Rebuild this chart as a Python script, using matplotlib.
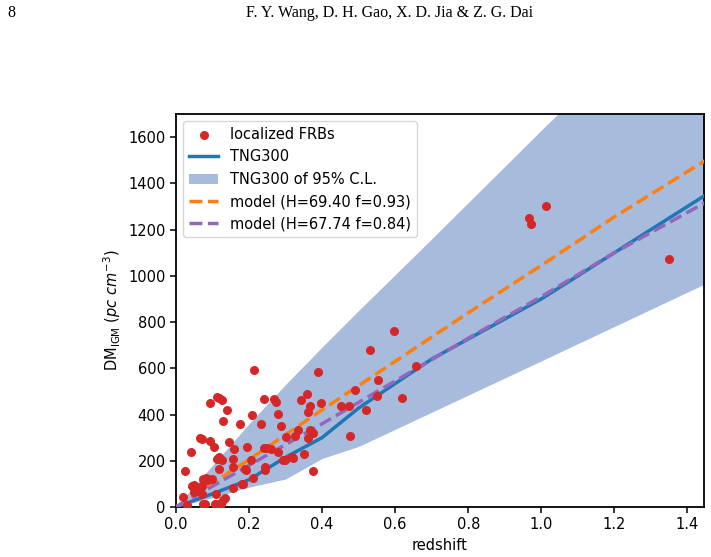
import numpy as np
import matplotlib
matplotlib.use("Agg")
import matplotlib.pyplot as plt

# localized FRBs (redshift, DM_IGM)
frb_z = [1.014, 0.965, 0.972, 1.350, 0.598, 0.530, 0.657, 0.213, 0.389, 0.553,
         0.489, 0.551, 0.619, 0.451, 0.474, 0.520, 0.476, 0.376, 0.398, 0.360,
         0.343, 0.368, 0.361, 0.241, 0.269, 0.275, 0.278, 0.209, 0.234, 0.287,
         0.335, 0.368, 0.374, 0.361, 0.326, 0.300, 0.278, 0.295, 0.321, 0.351,
         0.240, 0.250, 0.260, 0.194, 0.204, 0.158, 0.145, 0.176, 0.130, 0.141,
         0.093, 0.111, 0.119, 0.126, 0.065, 0.070, 0.092, 0.105, 0.042, 0.024,
         0.111, 0.119, 0.126, 0.157, 0.118, 0.157, 0.190, 0.243, 0.243, 0.211,
         0.182, 0.156, 0.098, 0.086, 0.070, 0.044, 0.056, 0.072, 0.109, 0.019,
         0.130, 0.116, 0.107, 0.074, 0.049, 0.058, 0.068, 0.075, 0.083, 0.294,
         0.298, 0.317, 0.030, 0.124, 0.134, 0.080, 0.050, 0.192, 0.183]
frb_dm = [1300, 1248, 1223, 1071, 761, 677, 608, 591, 584, 550,
          504, 478, 473, 438, 438, 418, 305, 157, 451, 488,
          462, 438, 411, 467, 467, 452, 403, 398, 360, 349,
          334, 334, 320, 298, 305, 301, 238, 202, 212, 229,
          255, 254, 251, 261, 205, 251, 281, 357, 373, 419,
          451, 477, 473, 464, 298, 295, 284, 259, 238, 156,
          207, 216, 205, 207, 163, 171, 164, 174, 158, 125,
          98, 82, 121, 115, 92, 92, 75, 58, 58, 42,
          29, 13, 13, 13, 93, 82, 85, 121, 125, 204,
          204, 217, 8, 15, 40, 15, 65, 160, 101]

# TNG300 mean and 95% band
tng_z = [0.0, 0.1, 0.2, 0.3, 0.4, 0.5, 0.7, 1.0, 1.5]
tng_mean = [0, 57, 118, 215, 300, 428, 640, 900, 1400]
tng_low = [0, 40, 86, 121, 210, 262, 410, 632, 1004]
tng_high = [0, 180, 360, 530, 692, 850, 1160, 1630, 2400]

# model curves
model_z = [0.0, 0.2, 0.4, 0.6, 0.8, 1.0, 1.2, 1.45]
model1_dm = [0, 205, 420, 630, 840, 1045, 1255, 1500]
model2_dm = [0, 180, 360, 545, 730, 910, 1100, 1318]

fig = plt.figure(figsize=(7.11, 5.57), dpi=100)
ax = fig.add_axes([0.2475, 0.0898, 0.7425, 0.7055])

sc = ax.scatter(frb_z, frb_dm, s=30, color="#d62728", zorder=4)
l1, = ax.plot(tng_z, tng_mean, color="#1f77b4", lw=2.5, zorder=3)
band = ax.fill_between(tng_z, tng_low, tng_high, color="#a7bbdd", lw=0, zorder=1)
l2, = ax.plot(model_z, model1_dm, "--", color="#ff7f0e", lw=2.5, zorder=3)
l3, = ax.plot(model_z, model2_dm, "--", color="#9467bd", lw=2.5, zorder=3)

ax.set_xlim(0, 1.445)
ax.set_ylim(0, 1700)
ax.set_xticks(np.arange(0, 1.41, 0.2))
ax.set_yticks(np.arange(0, 1601, 200))
ax.tick_params(labelsize=10.5, width=1.1, length=4)
for s in ax.spines.values():
    s.set_linewidth(1.3)
ax.set_xlabel("redshift", fontsize=10.5)
ax.set_ylabel(r"DM$_{\rm IGM}$ ($pc\ cm^{-3}$)", fontsize=10.5)

ax.legend([sc, l1, band, l2, l3],
          ["localized FRBs", "TNG300", "TNG300 of 95% C.L.",
           "model (H=69.40 f=0.93)", "model (H=67.74 f=0.84)"],
          loc="upper left", fontsize=10.5, scatterpoints=1)

fig.text(0.011, 0.977, "8", family="Liberation Serif", fontsize=11.5, va="center")
fig.text(0.548, 0.977, "F. Y. Wang, D. H. Gao, X. D. Jia & Z. G. Dai",
         family="Liberation Serif", fontsize=11.5, ha="center", va="center")

fig.savefig("out.png", dpi=100)
